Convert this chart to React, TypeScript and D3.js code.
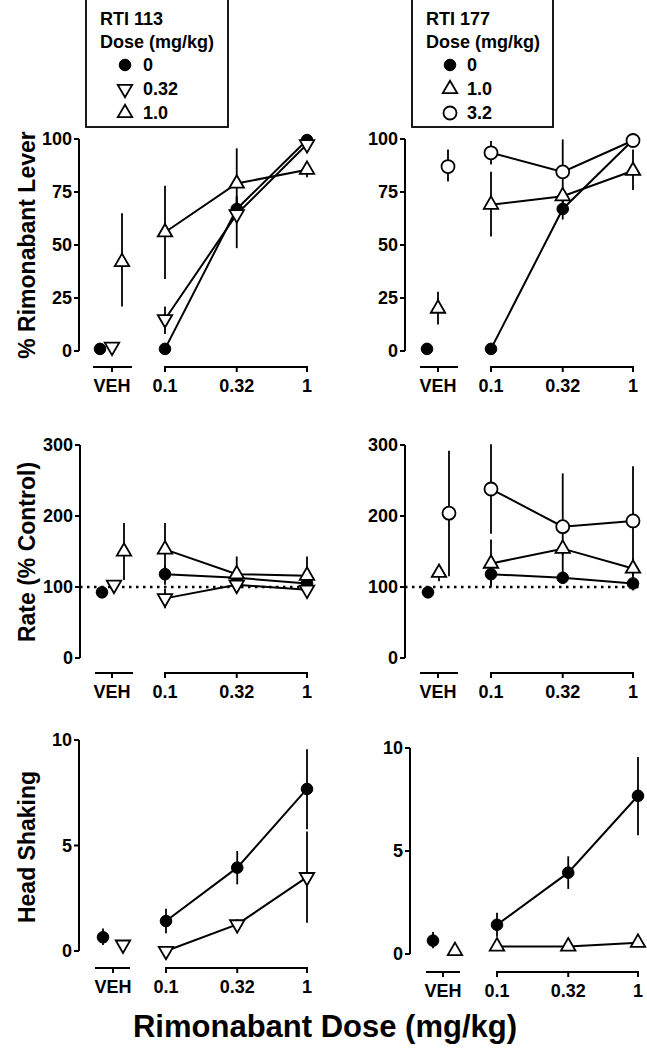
import React from "react";
import * as d3 from "d3";

// ---------- data ----------
const xTickLabels = ["VEH", "0.1", "0.32", "1"];
const doses = [0.1, 0.32, 1];
const leverTicks = [0, 25, 50, 75, 100];
const rateTicks = [0, 100, 200, 300];
const headTicks = [0, 5, 10];

const legend113Title = ["RTI 113", "Dose (mg/kg)"];
const legend113Labels = ["0", "0.32", "1.0"];
const legend177Title = ["RTI 177", "Dose (mg/kg)"];
const legend177Labels = ["0", "1.0", "3.2"];

type Err = [number, number] | null;

// index 0 = VEH, 1..3 = rimonabant 0.1, 0.32, 1 mg/kg
const leverCtrl = [1, 1, 67, 99.5];
const leverCtrlErr: Err[] = [null, null, [62, 73], null];
const lever113Low = [2, 15, 64.5, 97.5];
const lever113LowErr: Err[] = [null, [8, 21], [48.5, 72.5], null];
const lever113High = [42, 56, 79, 85.5];
const lever113HighErr: Err[] = [[21, 65], [34, 78], [62, 95.6], [82, 89]];
const lever177Low = [20, 69, 73, 85];
const lever177LowErr: Err[] = [[12.5, 28], [54, 84.5], [70, 76], [76, 95]];
const lever177High = [87, 93.5, 84.5, 99.3];
const lever177HighErr: Err[] = [[80, 95], [88, 99], [70, 99.8], null];

const rateCtrl = [92.5, 118, 113, 105];
const rateCtrlErr: Err[] = [null, [103, 130], [105, 121], [95, 112]];
const rate113Low = [103, 84, 103, 96];
const rate113LowErr: Err[] = [null, [70, 98], [97, 109], [90, 102]];
const rate113High = [150, 153, 118, 116];
const rate113HighErr: Err[] = [[110, 190], [116, 190], [95, 143], [90, 143]];
const rate177Low = [120, 133, 154, 126];
const rate177LowErr: Err[] = [[108, 132], [100, 167], [145, 163], [110, 140]];
const rate177High = [204, 238, 185, 193];
const rate177HighErr: Err[] = [[115, 292], [175, 301], [110, 260], [115, 270]];

const headCtrl = [0.65, 1.42, 3.95, 7.68];
const headCtrlErr: Err[] = [[0.28, 1.07], [0.84, 2.0], [3.16, 4.74], [5.77, 9.56]];
const head113Low = [0.3, 0, 1.26, 3.5];
const head113LowErr: Err[] = [null, null, [1.0, 1.5], [1.34, 5.66]];
const head177Low = [0.15, 0.37, 0.37, 0.55];
const head177LowErr: Err[] = [null, null, null, null];

// ---------- styling / layout ----------
const FONT = "'Liberation Sans', Arial, Helvetica, sans-serif";

type Marker = "filled" | "open" | "up" | "down";
type Series = { marker: Marker; vals: number[]; err: Err[]; vehOff: number };
type Geo = {
  axisX: number; x01: number; x1: number; vehX: number; vehSeg: [number, number];
  yTop: number; yBot: number; base: number;
};

const geo1: Geo = { axisX: 79, x01: 165, x1: 307, vehX: 112, vehSeg: [93, 132], yTop: 139, yBot: 351, base: 367 };
const geo2: Geo = { axisX: 405, x01: 491, x1: 633, vehX: 438, vehSeg: [420, 458], yTop: 139, yBot: 351, base: 367 };
const geo3: Geo = { axisX: 80, x01: 165, x1: 307, vehX: 112, vehSeg: [95, 133], yTop: 445, yBot: 658, base: 673 };
const geo4: Geo = { axisX: 405, x01: 491, x1: 633, vehX: 438, vehSeg: [420, 458], yTop: 445, yBot: 658, base: 673 };
const geo5: Geo = { axisX: 79, x01: 166, x1: 307, vehX: 113, vehSeg: [95, 130], yTop: 740, yBot: 951, base: 968 };
const geo6: Geo = { axisX: 410, x01: 497, x1: 638, vehX: 443, vehSeg: [426, 460], yTop: 748, yBot: 954, base: 972 };

function markerEl(m: Marker, x: number, y: number, key: string) {
  if (m === "filled") return <circle key={key} cx={x} cy={y} r={5.8} fill="#000" stroke="#000" strokeWidth={1} />;
  if (m === "open") return <circle key={key} cx={x} cy={y} r={6.5} fill="#fff" stroke="#000" strokeWidth={1.8} />;
  const p = d3.symbol().type(d3.symbolTriangle).size(90)() as string;
  return (
    <path key={key} d={p} transform={`translate(${x},${y})${m === "down" ? " rotate(180)" : ""}`}
      fill="#fff" stroke="#000" strokeWidth={1.8} strokeLinejoin="miter" />
  );
}

function Panel({ g, yMax, ticks, series, dotted }: { g: Geo; yMax: number; ticks: number[]; series: Series[]; dotted?: boolean }) {
  const x = d3.scaleLog().domain([0.1, 1]).range([g.x01, g.x1]);
  const y = d3.scaleLinear().domain([0, yMax]).range([g.yBot, g.yTop]);
  const line = d3.line<number>().x((_, i) => x(doses[i])).y((v) => y(v));
  const tickPos = [g.vehX, ...doses.map((d) => x(d))];
  return (
    <g>
      <line x1={g.axisX} x2={g.axisX} y1={y(0)} y2={y(yMax)} stroke="#000" strokeWidth={2} />
      {ticks.map((t) => (
        <g key={t}>
          <line x1={g.axisX - 5} x2={g.axisX} y1={y(t)} y2={y(t)} stroke="#000" strokeWidth={2} />
          <text x={g.axisX - 7} y={y(t)} textAnchor="end" dominantBaseline="central"
            fontFamily={FONT} fontWeight="bold" fontSize={18}>{t}</text>
        </g>
      ))}
      <line x1={g.vehSeg[0]} x2={g.vehSeg[1]} y1={g.base} y2={g.base} stroke="#000" strokeWidth={2} />
      <line x1={g.x01 - 1} x2={g.x1 + 1} y1={g.base} y2={g.base} stroke="#000" strokeWidth={2} />
      {tickPos.map((tx, i) => (
        <g key={i}>
          <line x1={tx} x2={tx} y1={g.base} y2={g.base + 5} stroke="#000" strokeWidth={2} />
          <text x={tx} y={g.base + 19} textAnchor="middle" dominantBaseline="central"
            fontFamily={FONT} fontWeight="bold" fontSize={18}>{xTickLabels[i]}</text>
        </g>
      ))}
      {dotted && (
        <line x1={g.axisX} x2={g.x1 + 8} y1={y(100)} y2={y(100)} stroke="#000" strokeWidth={2.5}
          strokeDasharray="2.5,4.5" />
      )}
      {series.map((s, si) =>
        s.err.map((e, i) => {
          if (!e) return null;
          const ex = i === 0 ? g.vehX + s.vehOff : x(doses[i - 1]);
          return <line key={`e${si}-${i}`} x1={ex} x2={ex} y1={y(e[0])} y2={y(e[1])} stroke="#000" strokeWidth={1.8} />;
        })
      )}
      {series.map((s, si) => (
        <path key={`l${si}`} d={line(s.vals.slice(1)) as string} fill="none" stroke="#000" strokeWidth={2} />
      ))}
      {series.map((s, si) =>
        s.vals.map((v, i) => {
          const mx = i === 0 ? g.vehX + s.vehOff : x(doses[i - 1]);
          return markerEl(s.marker, mx, y(v), `m${si}-${i}`);
        })
      )}
    </g>
  );
}

function Legend({ x0, x1, title, labels, markers, mx, lx }: { x0: number; x1: number; title: string[]; labels: string[]; markers: Marker[]; mx: number; lx: number }) {
  const rows = [65, 89, 113];
  return (
    <g>
      <rect x={x0} y={-2} width={x1 - x0} height={129} fill="#fff" stroke="#000" strokeWidth={1.8} />
      <text x={x0 + 14} y={25} fontFamily={FONT} fontWeight="bold" fontSize={18}>{title[0]}</text>
      <text x={x0 + 14} y={48} fontFamily={FONT} fontWeight="bold" fontSize={18}>{title[1]}</text>
      {labels.map((l, i) => (
        <g key={i}>
          {markerEl(markers[i], mx, rows[i], `lg${i}`)}
          <text x={lx} y={rows[i]} dominantBaseline="central" fontFamily={FONT} fontWeight="bold" fontSize={18}>{l}</text>
        </g>
      ))}
    </g>
  );
}

export default function App() {
  return (
    <svg width={647} height={1050} style={{ position: "absolute", left: 0, top: 0, background: "#fff" }}>
      <rect x={0} y={0} width={647} height={1050} fill="#fff" />
      <Legend x0={86} x1={228} title={legend113Title} labels={legend113Labels}
        markers={["filled", "down", "up"]} mx={125} lx={143} />
      <Legend x0={412} x1={553} title={legend177Title} labels={legend177Labels}
        markers={["filled", "up", "open"]} mx={450} lx={467} />

      <Panel g={geo1} yMax={100} ticks={leverTicks} series={[
        { marker: "up", vals: lever113High, err: lever113HighErr, vehOff: 10 },
        { marker: "filled", vals: leverCtrl, err: leverCtrlErr, vehOff: -12 },
        { marker: "down", vals: lever113Low, err: lever113LowErr, vehOff: 0 },
      ]} />
      <Panel g={geo2} yMax={100} ticks={leverTicks} series={[
        { marker: "filled", vals: leverCtrl, err: leverCtrlErr, vehOff: -11 },
        { marker: "up", vals: lever177Low, err: lever177LowErr, vehOff: 0 },
        { marker: "open", vals: lever177High, err: lever177HighErr, vehOff: 10 },
      ]} />
      <Panel g={geo3} yMax={300} ticks={rateTicks} dotted series={[
        { marker: "filled", vals: rateCtrl, err: rateCtrlErr, vehOff: -10 },
        { marker: "up", vals: rate113High, err: rate113HighErr, vehOff: 12 },
        { marker: "down", vals: rate113Low, err: rate113LowErr, vehOff: 2 },
      ]} />
      <Panel g={geo4} yMax={300} ticks={rateTicks} dotted series={[
        { marker: "filled", vals: rateCtrl, err: rateCtrlErr, vehOff: -10 },
        { marker: "up", vals: rate177Low, err: rate177LowErr, vehOff: 1 },
        { marker: "open", vals: rate177High, err: rate177HighErr, vehOff: 11 },
      ]} />
      <Panel g={geo5} yMax={10} ticks={headTicks} series={[
        { marker: "filled", vals: headCtrl, err: headCtrlErr, vehOff: -10 },
        { marker: "down", vals: head113Low, err: head113LowErr, vehOff: 10 },
      ]} />
      <Panel g={geo6} yMax={10} ticks={headTicks} series={[
        { marker: "filled", vals: headCtrl, err: headCtrlErr, vehOff: -10 },
        { marker: "up", vals: head177Low, err: head177LowErr, vehOff: 12 },
      ]} />

      <text transform="translate(27,245) rotate(-90)" textAnchor="middle" dominantBaseline="central"
        fontFamily={FONT} fontWeight="bold" fontSize={23}>% Rimonabant Lever</text>
      <text transform="translate(27,552) rotate(-90)" textAnchor="middle" dominantBaseline="central"
        fontFamily={FONT} fontWeight="bold" fontSize={23}>Rate (% Control)</text>
      <text transform="translate(27,847) rotate(-90)" textAnchor="middle" dominantBaseline="central"
        fontFamily={FONT} fontWeight="bold" fontSize={23}>Head Shaking</text>
      <text x={325} y={1026} textAnchor="middle" dominantBaseline="central"
        fontFamily={FONT} fontWeight="bold" fontSize={31}>Rimonabant Dose (mg/kg)</text>
    </svg>
  );
}
